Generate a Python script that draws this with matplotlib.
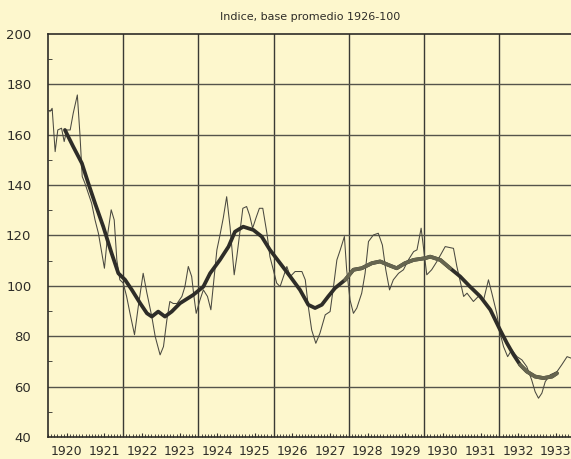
import matplotlib.pyplot as plt
from matplotlib.ticker import MultipleLocator, FixedLocator, NullFormatter

# monthly index (thin line), decimal years
indice_t = [1920.05, 1920.11, 1920.19, 1920.26, 1920.36, 1920.43, 1920.50, 1920.59,
            1920.67, 1920.78, 1920.85, 1920.91, 1920.98, 1921.07, 1921.16, 1921.25,
            1921.34, 1921.43, 1921.50, 1921.59, 1921.68, 1921.76, 1921.83, 1921.91,
            1922.00, 1922.09, 1922.18, 1922.30, 1922.40, 1922.53, 1922.63, 1922.76,
            1922.85, 1922.98, 1923.07, 1923.16, 1923.24, 1923.33, 1923.43, 1923.56,
            1923.64, 1923.73, 1923.82, 1923.88, 1923.94, 1924.04, 1924.13, 1924.24,
            1924.33, 1924.40, 1924.49, 1924.57, 1924.66, 1924.75, 1924.84, 1924.95,
            1925.02, 1925.18, 1925.28, 1925.36, 1925.44, 1925.53, 1925.62, 1925.71,
            1925.82, 1925.90, 1925.99, 1926.08, 1926.17, 1926.26, 1926.35, 1926.44,
            1926.57, 1926.75, 1926.84, 1926.92, 1927.01, 1927.12, 1927.23, 1927.37,
            1927.50, 1927.59, 1927.68, 1927.77, 1927.88, 1927.94, 1928.03, 1928.12,
            1928.21, 1928.34, 1928.43, 1928.52, 1928.65, 1928.78, 1928.89, 1928.98,
            1929.08, 1929.18, 1929.32, 1929.45, 1929.58, 1929.72, 1929.81, 1929.92,
            1930.07, 1930.20, 1930.34, 1930.56, 1930.78, 1930.87, 1930.98, 1931.05,
            1931.14, 1931.31, 1931.44, 1931.58, 1931.71, 1931.80, 1931.93, 1932.02,
            1932.11, 1932.22, 1932.33, 1932.47, 1932.60, 1932.73, 1932.86, 1932.95,
            1933.04, 1933.13, 1933.22, 1933.35, 1933.53, 1933.66, 1933.80, 1933.91]
indice_v = [169.2, 170.5, 153.3, 161.9, 162.6, 157.3, 161.9, 161.9,
            168.5, 175.8, 159.9, 143.4, 140.8, 136.8, 132.8, 126.2,
            120.9, 113.0, 107.0, 120.9, 130.2, 126.2, 110.3, 102.4,
            101.1, 95.8, 89.1, 80.6, 91.8, 105.0, 97.1, 87.8,
            79.9, 72.6, 75.9, 86.5, 93.8, 93.0, 93.0, 95.8,
            99.7, 107.7, 103.7, 95.8, 89.1, 94.4, 98.4, 95.8,
            90.5, 101.1, 114.3, 120.0, 127.0, 135.4, 123.5, 104.4,
            111.6, 130.8, 131.5, 128.0, 122.9, 127.0, 130.8, 130.8,
            120.9, 111.6, 106.4, 101.1, 99.7, 103.7, 107.7, 103.7,
            105.7, 105.7, 102.4, 91.8, 82.5, 77.2, 81.2, 88.5,
            89.8, 99.7, 110.3, 114.3, 119.6, 106.4, 94.4, 89.1,
            91.2, 97.1, 105.0, 117.6, 120.2, 120.9, 116.2, 106.4,
            98.4, 102.4, 105.0, 106.4, 110.3, 113.6, 114.3, 122.9,
            104.4, 106.4, 109.7, 115.6, 114.9, 107.7, 100.4, 95.8,
            97.1, 93.8, 95.8, 94.4, 102.4, 97.1, 89.1, 81.2,
            75.9, 71.9, 74.6, 71.9, 70.6, 67.9, 62.6, 58.0,
            55.4, 57.4, 62.0, 64.7, 65.9, 68.7, 71.9, 71.3]

# trend (thick line)
tend_t = [1920.45, 1920.67, 1920.90, 1921.07, 1921.25, 1921.47, 1921.69, 1921.87,
          1922.05, 1922.23, 1922.45, 1922.63, 1922.76, 1922.93, 1923.11, 1923.29,
          1923.51, 1923.86, 1924.13, 1924.31, 1924.57, 1924.80, 1924.97, 1925.19,
          1925.46, 1925.68, 1925.90, 1926.17, 1926.44, 1926.70, 1926.92, 1927.10,
          1927.28, 1927.45, 1927.63, 1927.90, 1928.12, 1928.34, 1928.61, 1928.83,
          1929.05, 1929.27, 1929.49, 1929.72, 1930.03, 1930.16, 1930.43, 1930.69,
          1930.96, 1931.22, 1931.49, 1931.76, 1932.02, 1932.20, 1932.38, 1932.55,
          1932.73, 1932.95, 1933.17, 1933.40, 1933.53]
tend_v = [161.9, 155.3, 148.7, 140.8, 132.8, 123.5, 113.0, 105.0,
          102.4, 98.4, 93.1, 89.1, 87.8, 89.8, 87.8, 89.8,
          93.1, 96.4, 99.7, 105.0, 110.3, 115.6, 121.5, 123.5,
          122.2, 119.6, 114.3, 109.0, 103.7, 98.4, 92.5, 91.2,
          92.5, 95.8, 99.1, 102.4, 106.4, 107.0, 109.0, 109.7,
          108.3, 107.0, 109.0, 110.3, 111.0, 111.6, 110.3, 107.0,
          103.7, 99.7, 95.8, 90.5, 82.5, 77.3, 72.6, 68.7,
          66.0, 64.0, 63.4, 64.0, 65.3]

years = list(range(1920, 1934))
titulo = 'Indice, base promedio 1926-100'

papel = '#fdf7cd'
tinta = '#2e2d28'
gris = '#66654f'

fig = plt.figure(figsize=(5.71, 4.59), dpi=100)
fig.patch.set_facecolor(papel)
ax = fig.add_axes([48 / 571, 22 / 459, 526.6 / 571, 403 / 459])
ax.set_facecolor(papel)

ax.set_xlim(1920, 1934)
ax.set_ylim(40, 200)

# grid: every 2 years, every 20 points
for yr in range(1922, 1934, 2):
    ax.axvline(yr, color='#3a3a34', lw=1.0, zorder=1)
for v in range(60, 200, 20):
    ax.axhline(v, color='#55544b', lw=1.0, zorder=1)

ax.plot(indice_t, indice_v, color='#4a4940', lw=0.75, zorder=3)
ax.plot(tend_t, tend_v, color=tinta, lw=2.7, zorder=4,
        solid_capstyle='round', solid_joinstyle='round')

# lighter ink on parts of the trend
for a, b in [(1927.85, 1930.75), (1932.55, 1933.6)]:
    seg = [(t, v) for t, v in zip(tend_t, tend_v) if a <= t <= b]
    ax.plot([s[0] for s in seg], [s[1] for s in seg], color=gris, lw=2.7,
            zorder=5, solid_capstyle='round', solid_joinstyle='round')

for side in ['left', 'bottom', 'top']:
    ax.spines[side].set_color(tinta)
    ax.spines[side].set_linewidth(1.2)
ax.spines['right'].set_visible(False)

# y axis
ax.yaxis.set_major_locator(MultipleLocator(20))
ax.yaxis.set_minor_locator(MultipleLocator(10))
ax.tick_params(axis='y', which='major', length=0, pad=12, labelsize=9.5,
               colors=tinta)
ax.tick_params(axis='y', which='minor', direction='in', length=3, color=tinta)

# x axis: year labels centred in each year, monthly ticks
ax.xaxis.set_major_locator(FixedLocator([y + 0.5 for y in years]))
ax.set_xticklabels([str(y) for y in years])
ax.xaxis.set_minor_locator(MultipleLocator(1 / 12))
ax.xaxis.set_minor_formatter(NullFormatter())
ax.tick_params(axis='x', which='major', length=3, direction='in', pad=6,
               labelsize=9, colors=tinta)
ax.tick_params(axis='x', which='minor', direction='in', length=2.5,
               color=tinta)

fig.text(310 / 571, 1 - 17 / 459, titulo, ha='center', va='center',
         fontsize=8, color=tinta)

fig.savefig('out.png', dpi=100, facecolor=papel)
